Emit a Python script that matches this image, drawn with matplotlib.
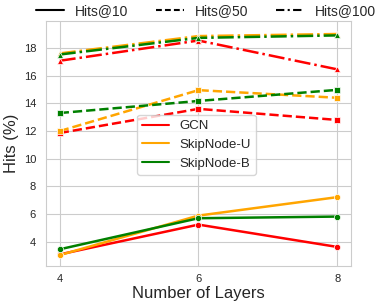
import matplotlib
matplotlib.use("Agg")
import matplotlib.pyplot as plt
import seaborn as sns
from matplotlib.lines import Line2D

sns.set_style("whitegrid")
plt.rcParams['font.family'] = ['Liberation Sans', 'DejaVu Sans']

# data
layers = [4, 6, 8]
models = ["GCN", "SkipNode-U", "SkipNode-B"]
colors = ["red", "orange", "green"]

hits10 = {
    "GCN": [3.10, 5.25, 3.64],
    "SkipNode-U": [3.05, 5.90, 7.23],
    "SkipNode-B": [3.47, 5.71, 5.83],
}
hits50 = {
    "GCN": [11.86, 13.60, 12.80],
    "SkipNode-U": [12.00, 14.95, 14.40],
    "SkipNode-B": [13.30, 14.17, 14.97],
}
hits100 = {
    "GCN": [17.07, 18.53, 16.45],
    "SkipNode-U": [17.60, 18.85, 19.00],
    "SkipNode-B": [17.52, 18.72, 18.90],
}

metrics = [("Hits@10", hits10, "-", "o"),
           ("Hits@50", hits50, "--", "s"),
           ("Hits@100", hits100, "-.", "^")]
# shorter dashes for the top legend handles
legend_ls = ["-", (0, (2.8, 1.5)), (0, (4, 1.6, 1, 1.6))]

fig, ax = plt.subplots(figsize=(3.82, 3.06), dpi=100)
fig.subplots_adjust(left=0.12, right=0.919, bottom=0.131, top=0.931)

for name, dct, ls, mk in metrics:
    for m, c in zip(models, colors):
        ax.plot(layers, dct[m], color=c, linestyle=ls, marker=mk, lw=1.8,
                markersize=4.5, markeredgecolor="white", markeredgewidth=0.5)

ax.set_xlim(3.8, 8.2)
ax.set_ylim(2.27, 19.93)
ax.set_xticks(layers)
ax.set_yticks([4, 6, 8, 10, 12, 14, 16, 18])
ax.tick_params(labelsize=8, length=0)
ax.tick_params(axis="x", pad=6)
ax.tick_params(axis="y", pad=7)
ax.set_xlabel("Number of Layers", fontsize=12, labelpad=1)
ax.set_ylabel("Hits (%)", fontsize=12, labelpad=3)

# model legend
h1 = [Line2D([0], [0], color=c, lw=1.5) for c in colors]
ax.legend(h1, models, loc="lower left", bbox_to_anchor=(0.299, 0.371),
          borderaxespad=0, fontsize=9.5, frameon=True, handlelength=2)

# metric legend on top
h2 = [Line2D([0], [0], color="black", lw=1.5, linestyle=ls) for ls in legend_ls]
fig.legend(h2, [n for n, _, _, _ in metrics], loc="upper center",
           bbox_to_anchor=(0.54, 1.028), ncol=3, frameon=False, fontsize=10,
           handlelength=2.0, columnspacing=2.0)

plt.savefig("out.png", dpi=100)
